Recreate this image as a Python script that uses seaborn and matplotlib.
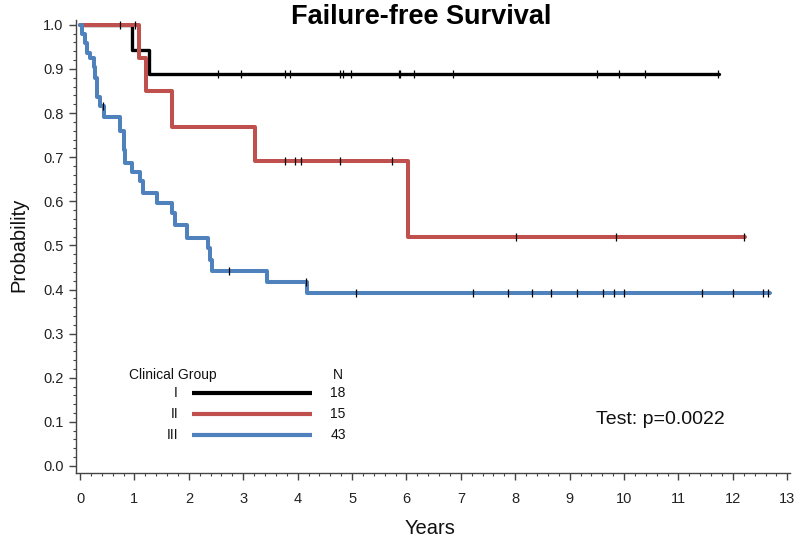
import numpy as np
import pandas as pd
import matplotlib
matplotlib.use("Agg")
import matplotlib.pyplot as plt
import seaborn as sns

# ---- data ----
groups = ["I", "II", "III"]
group_n = [18, 15, 43]
colors = ["#000000", "#c0504d", "#4f81bd"]

# Group I
t_I = [0.95, 1.27]
s_I = [0.944, 0.889]
end_I = 11.75
cens_I = [0.74, 2.54, 2.96, 3.77, 3.86, 4.78, 4.84, 4.98, 5.87, 5.89, 6.13,
          6.86, 9.50, 9.91, 10.38, 11.73]

# Group II
t_II = [1.09, 1.21, 1.69, 3.22, 6.02]
s_II = [0.924, 0.849, 0.769, 0.692, 0.52]
end_II = 12.22
cens_II = [1.01, 3.77, 3.95, 4.06, 4.77, 5.73, 8.01, 9.85, 12.21]

# Group III
t_III = [0.04, 0.10, 0.13, 0.19, 0.25, 0.28, 0.31, 0.37, 0.44, 0.74, 0.80,
         0.83, 0.95, 1.10, 1.16, 1.41, 1.69, 1.75, 1.96, 2.36, 2.39, 2.42,
         3.43, 4.17]
s_III = [0.979, 0.958, 0.936, 0.925, 0.905, 0.880, 0.836, 0.815, 0.790, 0.760,
         0.717, 0.686, 0.667, 0.645, 0.618, 0.595, 0.573, 0.546, 0.516, 0.494,
         0.467, 0.442, 0.418, 0.392]
end_III = 12.68
cens_III = [0.42, 2.73, 4.15, 5.07, 7.22, 7.87, 8.31, 8.65, 9.14, 9.61, 9.82,
            9.99, 11.43, 12.00, 12.56, 12.65]

title = "Failure-free Survival"
x_label = "Years"
y_label = "Probability"
legend_title = "Clinical Group"
test_text = "Test: p=0.0022"

# ---- build tables ----
curves = []
marks = []
for g, t, s, e, c in [("I", t_I, s_I, end_I, cens_I),
                      ("II", t_II, s_II, end_II, cens_II),
                      ("III", t_III, s_III, end_III, cens_III)]:
    tt = [0.0] + list(t) + [e]
    ss = [1.0] + list(s) + [s[-1]]
    curves.append(pd.DataFrame({"time": tt, "surv": ss, "group": g}))
    times = np.array([0.0] + list(t))
    levels = np.array([1.0] + list(s))
    idx = np.searchsorted(times, np.array(c), side="right") - 1
    marks.append(pd.DataFrame({"time": c, "surv": levels[idx], "group": g}))
curve_df = pd.concat(curves, ignore_index=True)
mark_df = pd.concat(marks, ignore_index=True)

# ---- plot ----
sns.set_style("ticks")
plt.rcParams["font.family"] = ["Liberation Sans", "DejaVu Sans"]
plt.rcParams["text.color"] = "#111111"

fig = plt.figure(figsize=(8, 5.47), dpi=100)
ax = fig.add_axes([76 / 800, 1 - 473 / 547, (790 - 76) / 800, (473 - 20) / 547])

for g, col, lw in zip(groups, colors, [2.4, 2.9, 2.9]):
    sns.lineplot(data=curve_df[curve_df.group == g], x="time", y="surv",
                 color=col, lw=lw, drawstyle="steps-post", estimator=None,
                 sort=False, ax=ax, legend=False, zorder=2)

sns.scatterplot(data=mark_df, x="time", y="surv", marker="|", s=40,
                color="black", linewidth=0.9, ax=ax, legend=False, zorder=3)

ax.set_xlim(-0.074, 13.05)
ax.set_ylim(-0.016, 1.011)
ax.set_xticks(np.arange(0, 14, 1))
ax.set_xticks(np.arange(0, 13.01, 0.2), minor=True)
ax.set_yticks(np.round(np.arange(0, 1.01, 0.1), 1))
ax.set_yticks(np.arange(0, 1.001, 0.02), minor=True)
ax.set_yticklabels([f"{v:.1f}" for v in np.arange(0, 1.01, 0.1)])
ax.tick_params(axis="both", which="major", length=5, width=1, colors="#444444",
               labelsize=10.5, labelcolor="#222222")
ax.tick_params(axis="both", which="minor", length=2.5, width=0.8, colors="#444444")
ax.tick_params(axis="x", which="major", pad=9)
ax.tick_params(axis="y", which="major", pad=4)
for side in ["top", "right"]:
    ax.spines[side].set_visible(False)
for side in ["left", "bottom"]:
    ax.spines[side].set_color("#444444")
    ax.spines[side].set_linewidth(1.0)

ax.set_xlabel("")
ax.set_ylabel("")
fig.text(430 / 800, 1 - 528 / 547, x_label, ha="center", va="center", fontsize=14.5)
fig.text(19 / 800, 1 - 245 / 547, y_label, ha="center", va="center",
         rotation=90, fontsize=14.5)
fig.text(421 / 800, 1 - 17 / 547, title, ha="center", va="center",
         fontsize=19.5, fontweight="bold", color="black")

# legend drawn manually
tr = ax.transAxes
ax.text(0.074, 0.216, legend_title, transform=tr, ha="left", va="center", fontsize=10)
ax.text(0.367, 0.216, "N", transform=tr, ha="center", va="center", fontsize=10)
for i, (g, n, col) in enumerate(zip(groups, group_n, colors)):
    yy = 0.177 - i * 0.0465
    ax.text(0.143, yy, g, transform=tr, ha="right", va="center", fontsize=10)
    ax.plot([0.1625, 0.3305], [yy, yy], transform=tr, color=col, lw=3.0,
            solid_capstyle="butt")
    ax.text(0.367, yy, str(n), transform=tr, ha="center", va="center", fontsize=10)

ax.text(0.818, 0.117, test_text, transform=tr, ha="center", va="center", fontsize=14)

fig.savefig("out.png", dpi=100)
